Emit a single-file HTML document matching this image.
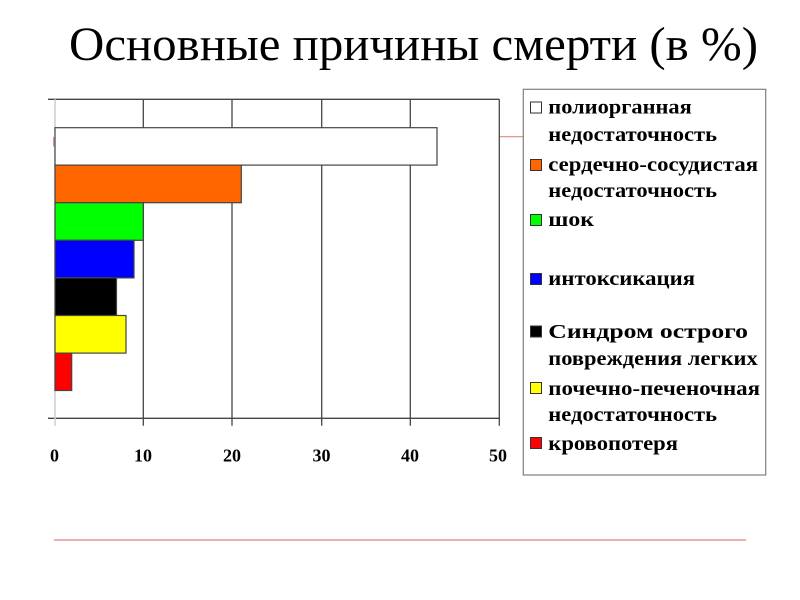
<!DOCTYPE html>
<html>
<head>
<meta charset="utf-8">
<style>
  html,body{margin:0;padding:0;background:#fff;}
  svg{display:block;}
  .leg{font-family:"Liberation Serif","DejaVu Serif",serif;font-weight:bold;font-size:19.5px;fill:#000;}
  .tick{font-family:"Liberation Serif","DejaVu Serif",serif;font-weight:bold;font-size:18px;fill:#000;}
  .title{font-family:"Liberation Serif","DejaVu Serif",serif;font-size:48px;fill:#000;}
</style>
</head>
<body>
<svg width="800" height="600" viewBox="0 0 800 600" xmlns="http://www.w3.org/2000/svg">
  <rect x="0" y="0" width="800" height="600" fill="#fff"/>
  <!-- title -->
  <text class="title" x="69" y="60" textLength="689" lengthAdjust="spacingAndGlyphs">Основные причины смерти (в %)</text>

  <!-- decorative red lines -->
  <line x1="499" y1="136.7" x2="523" y2="136.7" stroke="#e08a8a" stroke-width="1.2"/>
  <rect x="53" y="137" width="1.5" height="9.5" fill="#d99090"/>
  <line x1="54" y1="540" x2="746" y2="540" stroke="#e09595" stroke-width="1.5"/>

  <!-- gridlines -->
  <g stroke="#454545" stroke-width="1.3">
    <line x1="48" y1="99.3" x2="499.3" y2="99.3"/>
    <line x1="48" y1="418.3" x2="499.3" y2="418.3"/>
    <line x1="143.3" y1="99.3" x2="143.3" y2="425.7"/>
    <line x1="232" y1="99.3" x2="232" y2="425.7"/>
    <line x1="321.7" y1="99.3" x2="321.7" y2="425.7"/>
    <line x1="410.3" y1="99.3" x2="410.3" y2="425.7"/>
    <line x1="499.3" y1="99.3" x2="499.3" y2="425.7"/>
  </g>
  <line x1="55" y1="99.3" x2="55" y2="425.7" stroke="#d0d0d0" stroke-width="1.6"/>

  <!-- bars -->
  <g stroke="#444" stroke-width="1.2">
    <rect x="55" y="127.7" width="382" height="37.4" fill="#ffffff"/>
    <rect x="55" y="165.1" width="186.3" height="37.6" fill="#ff6600"/>
    <rect x="55" y="202.7" width="88.3" height="37.6" fill="#00ff00"/>
    <rect x="55" y="240.3" width="79" height="37.6" fill="#0000ff"/>
    <rect x="55" y="277.9" width="61.5" height="37.6" fill="#000000"/>
    <rect x="55" y="315.5" width="71" height="37.6" fill="#ffff00"/>
    <rect x="55" y="353.1" width="16.7" height="37.4" fill="#ff0000"/>
  </g>

  <!-- tick labels -->
  <g class="tick" text-anchor="middle">
    <text x="54.5" y="461.5">0</text>
    <text x="143" y="461.5">10</text>
    <text x="232" y="461.5">20</text>
    <text x="321.5" y="461.5">30</text>
    <text x="410" y="461.5">40</text>
    <text x="498" y="461.5">50</text>
  </g>

  <!-- legend -->
  <rect x="523.3" y="89.3" width="242.4" height="385.7" fill="#fff" stroke="#808080" stroke-width="1.2"/>
  <g stroke="#333" stroke-width="1">
    <rect x="530.5" y="102" width="11" height="11" fill="#fff"/>
    <rect x="530.5" y="159.5" width="11" height="11" fill="#ff6600"/>
    <rect x="530.5" y="214.5" width="11" height="11" fill="#00ff00"/>
    <rect x="530.5" y="273.5" width="11" height="11" fill="#0000ff"/>
    <rect x="530.5" y="326" width="11" height="11" fill="#000"/>
    <rect x="530.5" y="382.5" width="11" height="11" fill="#ffff00"/>
    <rect x="530.5" y="437.5" width="11" height="11" fill="#ff0000"/>
  </g>
  <g class="leg">
    <text x="548.3" y="113.5" textLength="143.4" lengthAdjust="spacingAndGlyphs">полиорганная</text>
    <text x="548.3" y="141" textLength="168.7" lengthAdjust="spacingAndGlyphs">недостаточность</text>
    <text x="548.3" y="171" textLength="209.7" lengthAdjust="spacingAndGlyphs">сердечно-сосудистая</text>
    <text x="548.3" y="197" textLength="168.7" lengthAdjust="spacingAndGlyphs">недостаточность</text>
    <text x="548.3" y="226" textLength="45.7" lengthAdjust="spacingAndGlyphs">шок</text>
    <text x="548.3" y="285" textLength="146.7" lengthAdjust="spacingAndGlyphs">интоксикация</text>
    <text x="548.3" y="338" textLength="199.7" lengthAdjust="spacingAndGlyphs">Синдром острого</text>
    <text x="548.3" y="365" textLength="209.4" lengthAdjust="spacingAndGlyphs">повреждения легких</text>
    <text x="548.3" y="395" textLength="211.7" lengthAdjust="spacingAndGlyphs">почечно-печеночная</text>
    <text x="548.3" y="421" textLength="168.7" lengthAdjust="spacingAndGlyphs">недостаточность</text>
    <text x="548.3" y="450" textLength="129.7" lengthAdjust="spacingAndGlyphs">кровопотеря</text>
  </g>
</svg>
</body>
</html>
